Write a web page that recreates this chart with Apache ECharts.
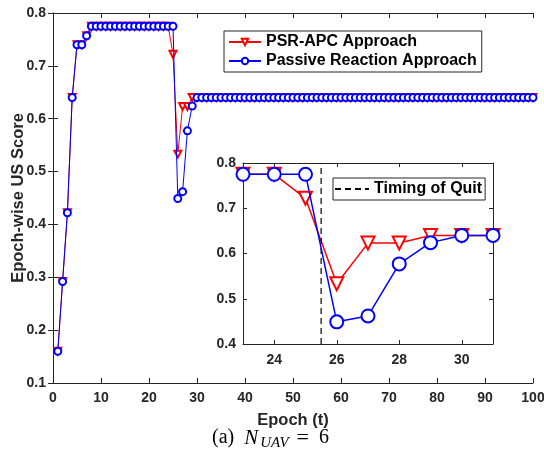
<!DOCTYPE html>
<html><head><meta charset="utf-8">
<script src="https://cdn.jsdelivr.net/npm/echarts@6/dist/echarts.min.js"></script>
<style>html,body{margin:0;padding:0;background:#fff}#c{width:544px;height:449px}</style>
</head><body><div id="c"></div>
<script>
// Data
const epochs = Array.from({length: 100}, (_, i) => i + 1);
const psrHead = [0.160, 0.292, 0.422, 0.640, 0.740, 0.740, 0.757, 0.775, 0.775, 0.775,
                 0.775, 0.775, 0.775, 0.775, 0.775, 0.775, 0.775, 0.775, 0.775, 0.775,
                 0.775, 0.775, 0.775, 0.775, 0.722, 0.533, 0.623, 0.623, 0.640];
const passiveHead = [0.160, 0.292, 0.422, 0.640, 0.740, 0.740, 0.757, 0.775, 0.775, 0.775,
                 0.775, 0.775, 0.775, 0.775, 0.775, 0.775, 0.775, 0.775, 0.775, 0.775,
                 0.775, 0.775, 0.775, 0.775, 0.775, 0.449, 0.462, 0.577, 0.624];
const steadyValue = 0.640; // epochs 30..100
const psrValues = epochs.map((e, i) => i < psrHead.length ? psrHead[i] : steadyValue);
const passiveValues = epochs.map((e, i) => i < passiveHead.length ? passiveHead[i] : steadyValue);
const quitEpoch = 25.5;
const insetRange = [23, 31];
const mainYTicks = [0.1, 0.8];
const insetXLabels = [24, 26, 28, 30];
const names = ['PSR-APC Approach', 'Passive Reaction Approach'];
const quitName = 'Timing of Quit';

const pair = (vals) => epochs.map((e, i) => [e, vals[i]]);
const insetPair = (vals) => epochs.map((e, i) => [e, vals[i]]).filter(p => p[0] >= insetRange[0] && p[0] <= insetRange[1]);

const axCol = '#262626';
const font = 'Liberation Sans, Arial, sans-serif';
const serif = 'Liberation Serif, Times New Roman, serif';
const lab = {color: axCol, fontFamily: font, fontWeight: 'bold', fontSize: 14};
const titleStyle = {color: axCol, fontFamily: font, fontWeight: 'bold', fontSize: 16.5};

const chart = echarts.init(document.getElementById('c'));
chart.setOption({
  animation: false,
  backgroundColor: '#fff',
  grid: [
    {left: 53, right: 11, top: 13, bottom: 66, show: false, outerBoundsMode: 'none', containLabel: false},
    {left: 243, width: 250, top: 163, height: 181, show: true, backgroundColor: '#fff', borderWidth: 0, z: 5, outerBoundsMode: 'none', containLabel: false}
  ],
  xAxis: [
    {type: 'value', gridIndex: 0, min: 0, max: 100, interval: 10,
     name: 'Epoch (t)', nameLocation: 'middle', nameGap: 29, nameMoveOverlap: false, nameTextStyle: titleStyle,
     axisLine: {lineStyle: {color: axCol}}, axisTick: {inside: true, length: 5, lineStyle: {color: axCol}},
     axisLabel: Object.assign({margin: 8}, lab), splitLine: {show: false}},
    {type: 'value', gridIndex: 0, position: 'top', min: 0, max: 100, interval: 10,
     axisLine: {lineStyle: {color: axCol}}, axisTick: {inside: true, length: 5, lineStyle: {color: axCol}},
     axisLabel: {show: false}, splitLine: {show: false}},
    {type: 'value', gridIndex: 1, min: insetRange[0], max: insetRange[1], z: 6,
     axisLine: {lineStyle: {color: axCol}}, axisTick: {inside: true, length: 4, customValues: insetXLabels, lineStyle: {color: axCol}},
     axisLabel: Object.assign({margin: 9, customValues: insetXLabels}, lab), splitLine: {show: false}},
    {type: 'value', gridIndex: 1, position: 'top', min: insetRange[0], max: insetRange[1], z: 6,
     axisLine: {lineStyle: {color: axCol}}, axisTick: {inside: true, length: 4, customValues: insetXLabels, lineStyle: {color: axCol}},
     axisLabel: {show: false}, splitLine: {show: false}}
  ],
  yAxis: [
    {type: 'value', gridIndex: 0, min: mainYTicks[0], max: mainYTicks[1], interval: 0.1,
     name: 'Epoch-wise US Score', nameLocation: 'middle', nameGap: 26, nameMoveOverlap: false, nameTextStyle: titleStyle,
     axisLine: {show: true, lineStyle: {color: axCol}}, axisTick: {show: true, inside: true, length: 5, lineStyle: {color: axCol}},
     axisLabel: Object.assign({margin: 7, formatter: v => v.toFixed(1)}, lab), splitLine: {show: false}},
    {type: 'value', gridIndex: 0, position: 'right', min: mainYTicks[0], max: mainYTicks[1], interval: 0.1,
     axisLine: {show: true, lineStyle: {color: axCol}}, axisTick: {show: true, inside: true, length: 5, lineStyle: {color: axCol}},
     axisLabel: {show: false}, splitLine: {show: false}},
    {type: 'value', gridIndex: 1, min: 0.4, max: 0.8, interval: 0.1, z: 6,
     axisLine: {show: true, lineStyle: {color: axCol}}, axisTick: {show: true, inside: true, length: 4, lineStyle: {color: axCol}},
     axisLabel: Object.assign({margin: 7, formatter: v => v.toFixed(1)}, lab), splitLine: {show: false}},
    {type: 'value', gridIndex: 1, position: 'right', min: 0.4, max: 0.8, interval: 0.1, z: 6,
     axisLine: {show: true, lineStyle: {color: axCol}}, axisTick: {show: true, inside: true, length: 4, lineStyle: {color: axCol}},
     axisLabel: {show: false}, splitLine: {show: false}}
  ],
  legend: [
    {data: names, left: 224, top: 31, orient: 'vertical', itemGap: 3,
     itemWidth: 32, itemHeight: 8, padding: [3, 5, 3, 4],
     borderColor: '#262626', borderWidth: 1, backgroundColor: '#fff',
     textStyle: {color: '#000', fontFamily: font, fontWeight: 'bold', fontSize: 16}, selectedMode: false},
    {data: [{name: quitName, itemStyle: {opacity: 0}}], left: 333, top: 178, orient: 'vertical', z: 10,
     itemWidth: 34, itemHeight: 8, padding: [3, 3, 3, 1], itemGap: 2,
     borderColor: '#262626', borderWidth: 1, backgroundColor: '#fff',
     textStyle: {color: '#000', fontFamily: font, fontWeight: 'bold', fontSize: 16}, selectedMode: false}
  ],
  graphic: [{
    type: 'text', left: 212, top: 427, z: 10,
    style: {
      text: '{a|(a)}{n|N}{s|UAV}{e|=}{a|6}',
      rich: {
        a: {fontFamily: serif, fontSize: 20, fill: '#000'},
        n: {fontFamily: serif, fontSize: 21, fontStyle: 'italic', fill: '#000', padding: [0, 2, 0, 10]},
        s: {fontFamily: serif, fontSize: 15, fontStyle: 'italic', fill: '#000', padding: [10, 0, 0, 0]},
        e: {fontFamily: serif, fontSize: 22, fill: '#000', padding: [0, 10, 0, 8]}
      }
    }
  }],
  series: [
    {name: names[0], type: 'line', xAxisIndex: 0, yAxisIndex: 0, data: pair(psrValues),
     symbol: 'emptyTriangle', symbolRotate: 180, symbolSize: 7, color: '#ff0000',
     lineStyle: {width: 1, color: '#ff0000'}, itemStyle: {color: '#ff0000', borderWidth: 1}, z: 2},
    {name: names[1], type: 'line', xAxisIndex: 0, yAxisIndex: 0, data: pair(passiveValues),
     symbol: 'emptyCircle', symbolSize: 7, color: '#0000ff',
     lineStyle: {width: 1, color: '#0000ff'}, itemStyle: {color: '#0000ff', borderWidth: 1}, z: 3},
    {name: names[0], type: 'line', xAxisIndex: 2, yAxisIndex: 2, data: insetPair(psrValues),
     symbol: 'emptyTriangle', symbolRotate: 180, symbolSize: 13, color: '#ff0000',
     lineStyle: {width: 1.5, color: '#ff0000'}, itemStyle: {color: '#ff0000', borderWidth: 1.5}, z: 7},
    {name: names[1], type: 'line', xAxisIndex: 2, yAxisIndex: 2, data: insetPair(passiveValues),
     symbol: 'emptyCircle', symbolSize: 13, color: '#0000ff',
     lineStyle: {width: 1.5, color: '#0000ff'}, itemStyle: {color: '#0000ff', borderWidth: 1.5}, z: 8},
    {name: quitName, type: 'line', xAxisIndex: 2, yAxisIndex: 2, data: [[quitEpoch, 0.4], [quitEpoch, 0.8]],
     symbol: 'none', color: '#000', lineStyle: {width: 1.2, type: [6, 4], color: '#000'}, z: 7}
  ]
});
</script></body></html>
